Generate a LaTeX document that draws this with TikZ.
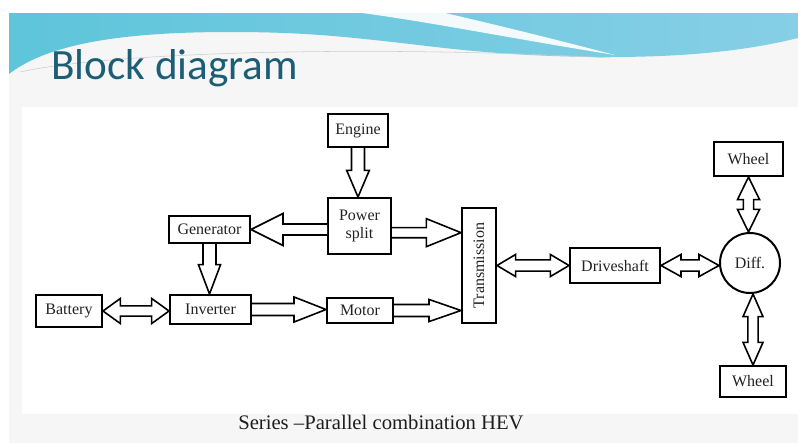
\documentclass[tikz,border=0pt]{standalone}
\usepackage{fontspec}
\usepackage{graphicx}
\setmainfont{Liberation Serif}
\newfontfamily\titlefont{Carlito}
\usetikzlibrary{calc}
\definecolor{titleblue}{HTML}{1D5E77}
\definecolor{bodygray}{HTML}{F6F6F6}
\definecolor{txt}{HTML}{222222}
\definecolor{capgray}{HTML}{1E1E1E}
\definecolor{waveL}{HTML}{5EC5DA}
\definecolor{waveR}{HTML}{86CFE6}
\tikzset{
  box/.style={draw=black, line width=1.5pt, fill=white, inner sep=1pt, text=txt,
    font=\fontsize{12}{13.5}\selectfont, align=center},
  bsw/.store in=\bsw, bhw/.store in=\bhw, bhl/.store in=\bhl,
  bsw=4pt, bhw=9pt, bhl=20pt,
  arr/.style={draw=black, fill=white, line width=1.2pt, line join=miter, miter limit=10},
  sglarrow/.style={arr, to path={let \p1=(\tikztostart), \p2=(\tikztotarget),
      \p3=($(\p2)!\bhl!(\p1)$) in
      ($(\p1)!\bsw!90:(\p2)$) -- ($(\p3)!\bsw!90:(\p2)$) -- ($(\p3)!\bhw!90:(\p2)$)
      -- (\p2) -- ($(\p3)!\bhw!-90:(\p2)$) -- ($(\p3)!\bsw!-90:(\p2)$)
      -- ($(\p1)!\bsw!-90:(\p2)$)}},
  dblarrow/.style={arr, to path={let \p1=(\tikztostart), \p2=(\tikztotarget),
      \p3=($(\p1)!\bhl!(\p2)$), \p4=($(\p2)!\bhl!(\p1)$) in
      (\p1) -- ($(\p3)!\bhw!90:(\p2)$) -- ($(\p3)!\bsw!90:(\p2)$)
      -- ($(\p4)!\bsw!90:(\p2)$) -- ($(\p4)!\bhw!90:(\p2)$) -- (\p2)
      -- ($(\p4)!\bhw!-90:(\p2)$) -- ($(\p4)!\bsw!-90:(\p2)$)
      -- ($(\p3)!\bsw!-90:(\p2)$) -- ($(\p3)!\bhw!-90:(\p2)$) -- cycle}}
}
\begin{document}
\begin{tikzpicture}[x=0.75pt,y=-0.75pt]
\useasboundingbox (0,0) rectangle (798,443);
% slide background
\fill[bodygray] (9,13) rectangle (798,443);
\fill[white] (22,107) rectangle (798,414);
% header wave
\shade[left color=waveL, right color=waveR]
  (9,13) -- (798,13) -- (798,38)
  .. controls (750,50) and (690,57) .. (610,57)
  .. controls (520,57) and (460,50) .. (410,44)
  .. controls (340,36) and (300,32) .. (230,32)
  .. controls (130,32) and (50,42) .. (9,74) -- cycle;
\fill[white, opacity=0.92]
  (362,13) -- (445,13) .. controls (510,28) and (565,42) .. (615,55)
  .. controls (520,40) and (430,22) .. (362,13) -- cycle;
\draw[gray!40, line width=0.4pt] (20,72) .. controls (120,50) and (400,46) .. (610,58);
% title
\node[anchor=base west, font=\titlefont\fontsize{32.4}{36}\selectfont, text=titleblue,
  inner sep=0pt] (title) at (51,79) {Block diagram};
% blocks
\node[box, minimum width=45pt, minimum height=24.75pt] (eng) at (358,130.5) {Engine};
\node[box, minimum width=47.25pt, minimum height=42pt] (ps) at (359.5,226) {Power\\split};
\node[box, minimum width=60.75pt, minimum height=20.25pt] (gen) at (209.5,229.5) {Generator};
\node[box, minimum width=49.5pt, minimum height=24pt] (bat) at (69,311) {Battery};
\node[box, minimum width=60.75pt, minimum height=21.75pt] (inv) at (210.5,309.5) {Inverter};
\node[box, minimum width=49.5pt, minimum height=18.75pt] (mot) at (360,310.5) {Motor};
\node[box, minimum width=25.5pt, minimum height=86.25pt] (tr) at (479,265.5) {\rotatebox{90}{Transmission}};
\node[box, minimum width=67.5pt, minimum height=26.25pt] (ds) at (615,265.5) {Driveshaft};
\node[box, circle, minimum size=45pt, inner sep=0pt] (diff) at (750,263) {Diff.};
\node[box, minimum width=51.75pt, minimum height=25.5pt] (wt) at (748.5,159) {Wheel};
\node[box, minimum width=49.5pt, minimum height=23.25pt] (wb) at (753,381.5) {Wheel};
% connectors
\coordinate (psr) at ([yshift=-5pt]ps.east);
\draw[sglarrow, bsw=4.9pt, bhw=8.5pt, bhl=20pt] (eng.south) to (eng.south |- ps.north);
\draw[sglarrow, bsw=4.1pt, bhw=12pt, bhl=24pt] (ps.west |- gen.east) to (gen.east);
\draw[sglarrow, bsw=3.8pt, bhw=10.5pt, bhl=26pt] (psr) to (psr -| tr.west);
\draw[sglarrow, bsw=4.9pt, bhw=8.3pt, bhl=22pt] (gen.south) to (gen.south |- inv.north);
\draw[dblarrow, bsw=3.8pt, bhw=9.4pt, bhl=13pt] (bat.east) to (bat.east -| inv.west);
\draw[sglarrow, bsw=4.5pt, bhw=9.4pt, bhl=24pt] (inv.east) to (inv.east -| mot.west);
\draw[sglarrow, bsw=4.5pt, bhw=8.3pt, bhl=24pt] (mot.east) to (mot.east -| tr.west);
\draw[dblarrow, bsw=4.2pt, bhw=8.3pt, bhl=14pt] (tr.east |- ds.west) to (ds.west);
\draw[dblarrow, bsw=4.2pt, bhw=8.3pt, bhl=15pt] (ds.east) to (ds.east -| diff.west);
\draw[dblarrow, bsw=3.8pt, bhw=8.3pt, bhl=17pt] (wt.south) to (wt.south |- diff.north);
\draw[dblarrow, bsw=3.8pt, bhw=7.5pt, bhl=17pt] (wb.north |- diff.south) to (wb.north);
% caption
\node[anchor=base west, font=\fontsize{15.5}{18}\selectfont, text=capgray, inner sep=0pt]
  (caption) at (238,429) {Series –Parallel combination HEV};
\end{tikzpicture}
\end{document}
